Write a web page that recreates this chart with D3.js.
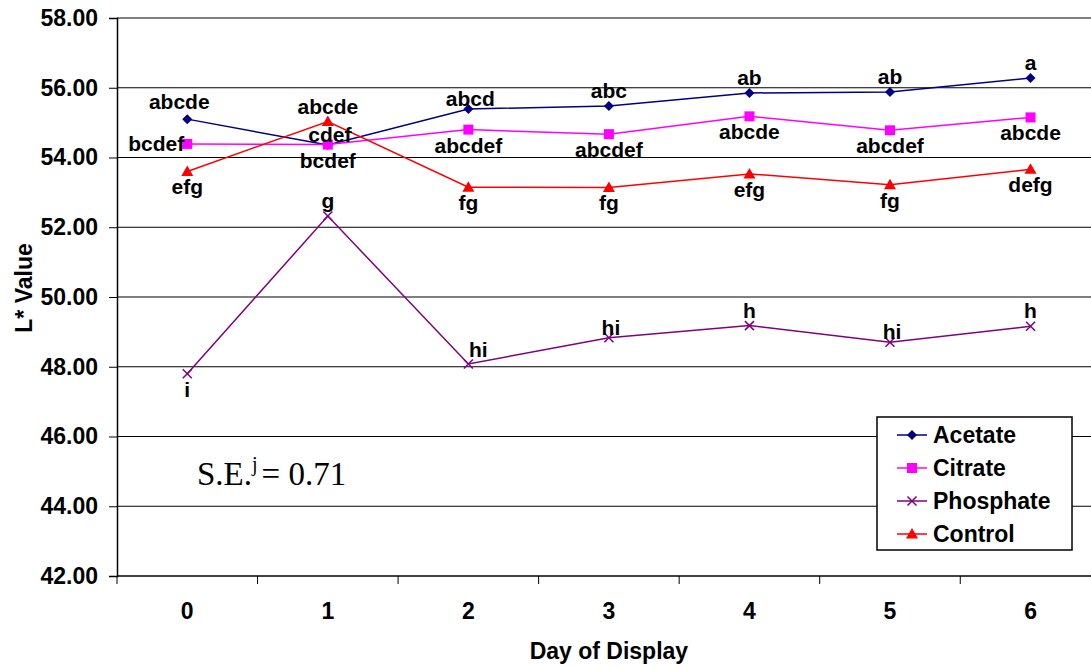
<!DOCTYPE html>
<html>
<head>
<meta charset="utf-8">
<script src="https://cdn.jsdelivr.net/npm/d3@7"></script>
<style>
  html, body { margin: 0; padding: 0; background: #fff; }
  svg { display: block; }
  text { font-family: "Liberation Sans", Arial, sans-serif; font-weight: bold; fill: #000; }
</style>
</head>
<body>
<svg id="chart" width="1091" height="667"></svg>
<script>
// ---- data ----
const days = ["0", "1", "2", "3", "4", "5", "6"];
const yTicks = [42, 44, 46, 48, 50, 52, 54, 56, 58];
const seriesNames = ["Acetate", "Citrate", "Phosphate", "Control"];

const acetate   = [55.10, 54.36, 55.39, 55.48, 55.85, 55.88, 56.28];
const citrate   = [54.39, 54.37, 54.80, 54.67, 55.18, 54.78, 55.15];
const phosphate = [47.80, 52.32, 48.08, 48.83, 49.18, 48.70, 49.16];
const control   = [53.60, 55.03, 53.15, 53.14, 53.53, 53.22, 53.66];

const acetateLabels   = ["abcde", "cdef", "abcd", "abc", "ab", "ab", "a"];
const citrateLabels   = ["bcdef", "bcdef", "abcdef", "abcdef", "abcde", "abcdef", "abcde"];
const phosphateLabels = ["i", "g", "hi", "hi", "h", "hi", "h"];
const controlLabels   = ["efg", "abcde", "fg", "fg", "efg", "fg", "defg"];

// label placement codes (t = above, tn = just above, b = below, l = left, tr / tl = above shifted)
const acetatePos   = ["tl", "tn", "tn", "t", "t", "t", "t"];
const citratePos   = ["l", "b", "b", "b", "b", "b", "b"];
const phosphatePos = ["b", "t", "tr", "tn", "t", "tn", "t"];
const controlPos   = ["b", "t", "b", "b", "b", "b", "b"];

const seText = { pre: "S.E.", sup: "j", post: "= 0.71" };

// ---- layout ----
const W = 1091, H = 667;
const plot = { left: 117, right: 1100.8, top: 18, bottom: 576 };

const svg = d3.select("#chart");

const x = d3.scaleBand().domain(days).range([plot.left, plot.right]).padding(0);
const y = d3.scaleLinear().domain([42, 58]).range([plot.bottom, plot.top]);
const cx = d => x(d) + x.bandwidth() / 2;

// gridlines
svg.append("g").selectAll("line").data(yTicks.filter(t => t > 42)).join("line")
  .attr("x1", plot.left).attr("x2", W + 20)
  .attr("y1", d => y(d)).attr("y2", d => y(d))
  .attr("stroke", "#000").attr("stroke-width", 1);

// y axis
const yAxis = d3.axisLeft(y).tickValues(yTicks).tickSize(8).tickPadding(11).tickFormat(d3.format(".2f"));
const gy = svg.append("g").attr("transform", `translate(${plot.left},0)`).call(yAxis);
gy.select(".domain").attr("stroke", "#000").attr("stroke-width", 1.5);
gy.selectAll(".tick line").attr("stroke", "#000");
gy.selectAll(".tick text").attr("font-size", 23).attr("font-family", "Liberation Sans, Arial, sans-serif").attr("font-weight", "bold");

// x axis: line and ticks at band boundaries
const gx = svg.append("g");
gx.append("line").attr("x1", plot.left).attr("x2", W + 20)
  .attr("y1", plot.bottom).attr("y2", plot.bottom).attr("stroke", "#000").attr("stroke-width", 1.5);
const bounds = days.map(d => x(d)).concat([x(days[days.length - 1]) + x.bandwidth()]);
gx.selectAll("line.tk").data(bounds).join("line").attr("class", "tk")
  .attr("x1", d => d).attr("x2", d => d)
  .attr("y1", plot.bottom).attr("y2", plot.bottom + 8).attr("stroke", "#000");
gx.selectAll("text").data(days).join("text")
  .attr("x", d => cx(d)).attr("y", 619).attr("text-anchor", "middle")
  .attr("font-size", 23).text(d => d);

// axis titles
svg.append("text").attr("x", (plot.left + plot.right) / 2).attr("y", 659)
  .attr("text-anchor", "middle").attr("font-size", 23).text("Day of Display");
svg.append("text").attr("transform", "translate(32,288) rotate(-90)")
  .attr("text-anchor", "middle").attr("font-size", 23).text("L* Value");

// marker shapes
const markers = {
  diamond: "M0,-5L5,0L0,5L-5,0Z",
  square: "M-5,-5H5V5H-5Z",
  triangle: "M0,-6L6,4.5H-6Z",
  x: "M-4.5,-4.5L4.5,4.5M-4.5,4.5L4.5,-4.5"
};

const series = [
  { name: seriesNames[0], values: acetate, labels: acetateLabels, pos: acetatePos, color: "#000080", marker: "diamond" },
  { name: seriesNames[1], values: citrate, labels: citrateLabels, pos: citratePos, color: "#FF00FF", marker: "square" },
  { name: seriesNames[2], values: phosphate, labels: phosphateLabels, pos: phosphatePos, color: "#800080", marker: "x" },
  { name: seriesNames[3], values: control, labels: controlLabels, pos: controlPos, color: "#FF0000", marker: "triangle" }
];

const line = d3.line().x((v, i) => cx(days[i])).y(v => y(v));

function drawMarker(g, s) {
  const p = g.append("path").attr("d", markers[s.marker]);
  if (s.marker === "x") p.attr("fill", "none").attr("stroke", s.color).attr("stroke-width", 1.5);
  else p.attr("fill", s.color).attr("stroke", "none");
}

series.forEach(s => {
  const g = svg.append("g");
  g.append("path").datum(s.values).attr("d", line)
    .attr("fill", "none").attr("stroke", s.color).attr("stroke-width", 1.5);
  s.values.forEach((v, i) => {
    const m = g.append("g").attr("transform", `translate(${cx(days[i])},${y(v)})`);
    drawMarker(m, s);
  });
});

// data labels (drawn after all lines)
series.forEach(s => {
  s.values.forEach((v, i) => {
    const px = cx(days[i]), py = y(v);
    const code = s.pos[i];
    const t = svg.append("text").attr("font-size", 21).text(s.labels[i]);
    if (code === "t") t.attr("x", px).attr("y", py - 8).attr("text-anchor", "middle");
    else if (code === "tn") t.attr("x", px + 2).attr("y", py - 3).attr("text-anchor", "middle");
    else if (code === "tl") t.attr("x", px - 8).attr("y", py - 10).attr("text-anchor", "middle");
    else if (code === "tr") t.attr("x", px + 10).attr("y", py - 7).attr("text-anchor", "middle");
    else if (code === "b") t.attr("x", px).attr("y", py + 23).attr("text-anchor", "middle");
    else if (code === "l") t.attr("x", px - 3).attr("y", py).attr("dy", "0.35em").attr("text-anchor", "end");
  });
});

// S.E. annotation
const se = svg.append("text").attr("x", 197).attr("y", 485)
  .style("font-family", "'Liberation Serif', 'Times New Roman', serif").style("font-weight", "normal")
  .attr("font-size", 33);
se.append("tspan").text(seText.pre);
se.append("tspan").attr("font-size", 20).attr("dy", -14).text(seText.sup);
se.append("tspan").attr("dy", 14).attr("dx", 4).text(seText.post);

// legend
const lg = svg.append("g");
lg.append("rect").attr("x", 877).attr("y", 417).attr("width", 195).attr("height", 133)
  .attr("fill", "#fff").attr("stroke", "#000").attr("stroke-width", 1.5);
series.forEach((s, i) => {
  const ry = 435 + i * 33;
  lg.append("line").attr("x1", 897).attr("x2", 927).attr("y1", ry).attr("y2", ry)
    .attr("stroke", s.color).attr("stroke-width", 1.5);
  const m = lg.append("g").attr("transform", `translate(912,${ry})`);
  drawMarker(m, s);
  lg.append("text").attr("x", 933).attr("y", ry).attr("dy", "0.35em")
    .attr("font-size", 23).text(s.name);
});
</script>
</body>
</html>
